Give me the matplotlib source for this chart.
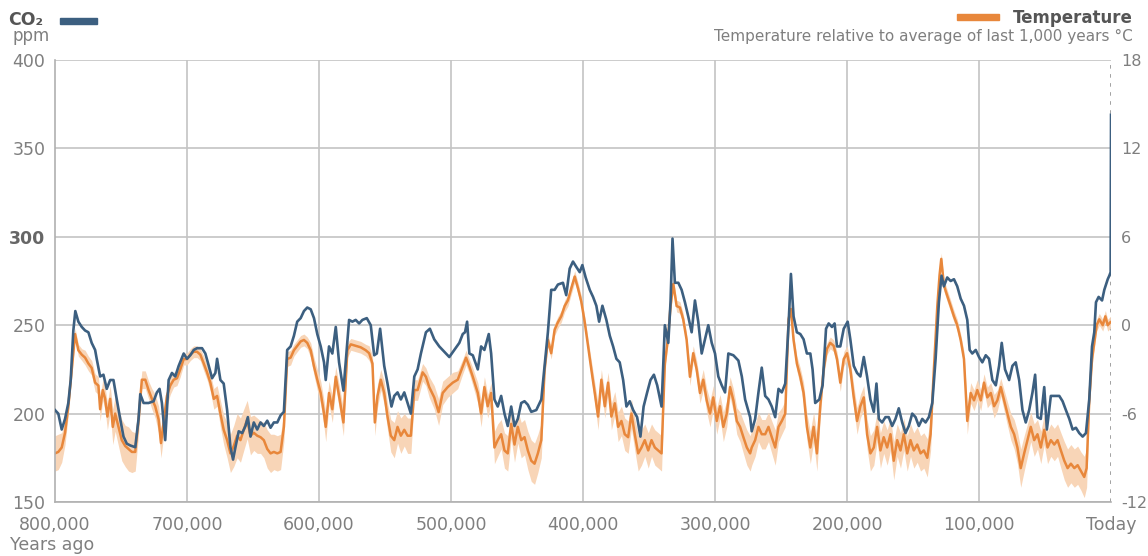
import numpy as np
import matplotlib
matplotlib.use("Agg")
import matplotlib.pyplot as plt
from matplotlib.patches import Rectangle

plt.rcParams["axes.unicode_minus"] = False

# thousand years ago / ppm
co2_age = [800.0, 797.5, 794.9, 792.4, 789.9, 788.1, 786.1, 784.6, 782.3, 779.7,
           777.2, 774.7, 772.2, 769.6, 768.4, 765.8, 763.3, 760.8, 758.2, 755.7,
           753.2, 750.6, 748.1, 745.6, 743.0, 739.2, 736.7, 735.4, 732.9, 729.1,
           725.3, 722.8, 720.8, 719.0, 716.5, 713.9, 711.4, 708.9, 706.3, 702.5,
           700.0, 697.5, 694.9, 692.4, 688.6, 686.1, 683.5, 681.0, 678.5, 677.2,
           674.7, 672.2, 669.6, 667.1, 665.1, 663.3, 660.8, 658.2, 655.7, 653.9,
           651.9, 649.4, 646.8, 644.3, 641.8, 639.2, 636.7, 634.2, 631.6, 629.1,
           626.6, 624.1, 621.5, 619.0, 616.5, 613.9, 611.4, 608.9, 606.3, 603.8,
           601.3, 598.7, 596.2, 594.9, 592.4, 589.9, 587.3, 584.8, 581.5, 577.2,
           574.7, 572.2, 569.6, 567.1, 563.8, 560.8, 558.2, 556.2, 553.7, 550.6,
           548.1, 545.1, 543.0, 540.5, 538.0, 535.4, 532.9, 530.4,
           527.8, 525.3, 522.8, 519.0, 516.0, 512.7, 508.9, 505.1, 501.3, 497.5,
           493.7, 491.1, 489.4, 487.8, 486.1, 483.5, 479.7, 477.2, 474.7, 471.4,
           469.6, 467.1, 464.6, 462.0, 459.5, 457.0, 454.4, 451.9, 449.4, 446.8,
           444.3, 441.8, 439.2, 435.4, 431.6, 429.1, 426.6, 424.1, 421.5, 419.0,
           415.2, 412.7, 410.1, 407.6, 405.1, 402.5, 400.5, 398.0, 394.9, 392.4,
           389.9, 387.8, 385.3, 382.3, 379.7, 377.2, 374.7, 372.2, 369.6, 367.1,
           364.6, 362.0, 359.0, 356.5, 354.1, 351.4, 348.9, 346.3, 343.8, 340.5,
           338.0, 335.4, 333.7, 332.2, 330.4, 327.8, 325.3, 322.8, 320.3, 317.7,
           315.2, 312.7, 310.1, 307.6, 305.1, 302.5, 300.0, 297.5, 294.9, 292.4,
           289.9, 286.1, 282.3, 279.7, 277.2, 273.4,
           272.2, 269.6, 267.1, 264.6, 262.0, 259.5, 257.0, 254.4, 251.9, 249.4,
           246.8, 244.3, 242.5, 240.5, 238.0, 235.4, 232.9, 230.4, 227.8, 226.1,
           224.1, 221.0, 218.5, 215.9, 213.9, 211.4, 209.4, 207.6, 205.1, 202.5,
           199.5, 197.5, 194.9, 192.4, 189.9, 187.3, 184.8, 182.3, 179.7, 177.7,
           175.9, 173.4, 170.9, 168.4, 165.8, 163.3, 160.8, 158.2, 155.7, 153.2,
           150.6, 148.1, 145.6, 143.0, 140.5, 138.0, 135.4, 132.9, 130.4, 128.4,
           126.6, 124.1, 121.5, 119.0, 116.5, 113.9, 111.4, 108.9, 107.1, 105.1,
           102.5, 100.0, 97.5, 94.9, 92.4, 89.9, 87.3, 84.8, 82.8, 80.3,
           77.2, 74.7, 72.2, 69.6, 67.1, 64.6, 62.0, 59.5, 57.5, 55.7,
           53.2, 50.6, 48.6, 45.6, 43.0, 39.2, 36.7, 34.2, 31.6, 29.1,
           26.6, 24.1, 21.5, 19.0, 16.5, 14.4, 12.7, 11.4, 9.4, 6.8,
           5.1, 2.5, 1.3, 0.3, 0.0]

co2_ppm = [202, 200, 191, 197, 206, 219, 247, 258, 252, 249,
           247, 246, 240, 236, 231, 221, 222, 214, 219, 219,
           208, 197, 187, 183, 182, 181, 197, 211, 206, 206,
           207, 212, 214, 206, 185, 219, 223, 221, 227, 234,
           231, 233, 236, 237, 237, 234, 227, 220, 223, 231,
           219, 217, 202, 181, 174, 181, 190, 189, 193, 198,
           187, 195, 191, 195, 193, 196, 192, 195, 195, 199,
           201, 236, 238, 244, 252, 254, 258, 260, 259, 254,
           245, 238, 229, 219, 238, 234, 249, 229, 213, 253,
           252, 253, 251, 253, 254, 250, 233, 234, 248, 227,
           217, 204, 210, 212, 208, 212, 206, 200,
           221, 225, 234, 246, 248, 242, 238, 235, 232, 236,
           240, 245, 246, 252, 234, 233, 225, 238, 236, 245,
           234, 208, 204, 210, 200, 193, 204, 193, 197, 206,
           207, 205, 201, 202, 208, 227, 246, 270, 270, 273,
           274, 267, 282, 286, 283, 280, 284, 277, 270, 266,
           261, 252, 261, 253, 244, 238, 231, 229, 219, 204,
           207, 202, 198, 187, 204, 212, 219, 222, 216, 204,
           250, 240, 263, 299, 274, 274, 270, 263, 255, 246,
           264, 252, 234, 242, 250, 240, 234, 221, 216, 212,
           234, 233, 230, 221, 208, 198,
           190, 197, 212, 226, 210, 208, 204, 198, 214, 212,
           217, 250, 279, 255, 246, 245, 242, 234, 234, 225,
           206, 208, 216, 248, 251, 249, 251, 238, 238, 248,
           252, 242, 227, 223, 221, 232, 221, 208, 201, 217,
           197, 195, 198, 198, 193, 197, 203, 195, 189, 193,
           200, 198, 193, 197, 195, 198, 206, 231, 263, 278,
           272, 277, 275, 276, 272, 265, 261, 253, 236, 234,
           236, 232, 229, 233, 231, 219, 216, 227, 240, 225,
           219, 227, 229, 219, 202, 195, 202, 212, 222, 198,
           197, 215, 191, 210, 210, 210, 207, 202, 197, 191,
           192, 189, 187, 189, 208, 238, 246, 263, 266, 264,
           270, 276, 278, 280, 369]

# thousand years ago / degrees C relative to last 1,000 years
temp_age = [800.0, 797.5, 794.9, 792.4, 789.9, 787.3, 784.8, 782.3, 779.7, 777.2,
            774.7, 772.2, 769.6, 767.1, 765.8, 763.8, 762.0, 760.3, 758.2, 756.2,
            754.4, 751.9, 749.4, 746.8, 744.3, 741.8, 739.2, 736.7, 734.2, 731.6,
            729.1, 726.6, 724.1, 721.5, 719.7, 717.7, 715.2, 712.7, 710.1, 707.6,
            705.1, 702.5, 700.0, 697.5, 694.9, 692.4, 689.9, 687.3, 684.8, 682.3,
            679.7, 677.2, 674.7, 672.2, 669.6, 667.1, 664.6, 662.0, 659.5, 657.0,
            654.4, 651.9, 649.4, 646.8, 644.3, 641.8, 639.2, 636.7, 634.2, 631.6,
            629.1, 626.6, 624.1, 621.5, 619.0, 616.5, 613.9, 611.4, 608.9, 606.3,
            603.8, 601.3, 598.7, 596.2, 594.9, 592.4, 589.9, 587.3, 584.8, 581.5,
            578.5, 575.9, 572.2, 568.4, 564.6, 562.0, 559.5, 557.7, 555.7, 553.2,
            550.6, 548.1, 545.6, 543.0, 540.5, 538.0, 535.4, 532.9, 530.4,
            527.8, 525.3, 521.5, 519.0, 516.5, 512.7, 509.4, 506.3, 502.5, 498.7,
            494.9, 491.1, 488.6, 486.1, 483.5, 479.7, 477.2, 474.7, 472.2, 469.6,
            467.1, 464.6, 462.0, 459.5, 457.0, 454.4, 451.9, 449.4, 446.8, 444.3,
            441.8, 439.2, 436.7, 434.2, 431.6, 429.1, 426.6, 424.1, 421.5, 419.0,
            416.5, 413.9, 411.4, 408.9, 406.3, 403.8, 401.3, 398.7, 396.2, 393.7,
            391.1, 388.6, 386.1, 383.5, 381.0, 378.5, 375.9, 373.4, 370.9, 368.4,
            365.8, 363.3, 360.8, 358.2, 355.7, 353.2, 350.6, 348.1, 345.6, 343.0,
            340.5, 338.0, 335.4, 333.7, 331.6, 329.1, 326.6, 324.1, 321.5, 319.0,
            316.5, 313.9, 311.4, 308.9, 306.3, 303.8, 301.3, 298.7, 296.2, 293.7,
            291.1, 288.6, 286.1, 283.5, 281.0, 278.5, 275.9, 273.4,
            272.2, 269.6, 267.1, 264.6, 262.0, 259.5, 257.0, 254.4, 251.9, 249.4,
            246.8, 244.3, 242.5, 240.5, 238.0, 235.4, 232.9, 230.4, 227.8, 225.3,
            222.8, 220.3, 217.7, 215.2, 212.7, 210.1, 207.6, 205.1, 202.5, 200.0,
            197.5, 194.9, 192.4, 189.9, 187.3, 184.8, 182.3, 179.7, 177.2, 174.7,
            172.2, 169.6, 167.1, 164.6, 162.0, 159.5, 157.0, 154.4, 151.9, 149.4,
            146.8, 144.3, 141.8, 139.2, 136.7, 134.2, 131.6, 129.9, 128.6, 126.6,
            124.1, 121.5, 119.0, 116.5, 113.9, 111.4, 108.9, 106.3, 103.8, 101.3,
            98.7, 96.2, 93.7, 91.1, 88.6, 86.1, 83.5, 81.0, 78.5, 75.9,
            73.4, 70.9, 68.4, 65.8, 63.3, 60.8, 58.2, 55.7, 53.2, 50.6,
            48.1, 45.6, 43.0, 40.5, 38.0, 35.4, 32.9, 30.4, 27.8, 25.3,
            22.8, 20.3, 18.5, 16.5, 14.4, 12.7, 10.9, 8.9, 6.3, 4.3,
            2.5, 0.5]

temp_c = [-8.7, -8.6, -8.3, -7.3, -5.5, -3.0, -0.6, -1.7, -2.0, -2.2,
          -2.6, -2.9, -3.9, -4.1, -5.7, -4.4, -5.0, -6.2, -5.0, -6.9,
          -6.0, -6.9, -7.8, -8.2, -8.4, -8.6, -8.6, -6.4, -3.7, -3.7,
          -4.4, -5.0, -5.5, -6.4, -8.0, -6.6, -4.8, -4.1, -3.7, -3.6,
          -3.0, -2.3, -2.3, -2.0, -1.8, -1.8, -2.0, -2.6, -3.2, -3.9,
          -5.0, -4.8, -6.0, -7.1, -7.8, -8.7, -8.2, -7.5, -7.8, -7.1,
          -6.4, -7.5, -7.3, -7.5, -7.6, -7.8, -8.4, -8.7, -8.6, -8.7,
          -8.6, -6.9, -2.3, -2.2, -1.7, -1.4, -1.1, -1.0, -1.2, -1.7,
          -2.8, -3.7, -4.6, -6.0, -6.9, -4.6, -5.7, -3.5, -4.8, -6.6,
          -1.7, -1.3, -1.4, -1.5, -1.7, -1.9, -2.6, -6.6, -4.8, -3.7,
          -4.6, -6.2, -7.5, -7.8, -6.9, -7.5, -7.1, -7.5, -7.5,
          -4.4, -4.4, -3.2, -3.5, -4.2, -4.9, -5.9, -4.6, -4.2, -3.9,
          -3.7, -2.8, -2.2, -2.8, -3.5, -4.6, -6.0, -4.2, -5.5, -4.6,
          -8.3, -7.8, -7.4, -8.5, -8.7, -6.7, -8.1, -6.9, -7.8, -7.6,
          -8.5, -9.2, -9.4, -8.7, -7.8, -3.0, -1.0, -1.9, -0.3, 0.2,
          0.6, 1.3, 1.7, 2.5, 3.3, 2.5, 1.6, 0.2, -1.4, -3.0,
          -4.6, -6.2, -3.7, -5.5, -3.9, -6.2, -5.3, -6.9, -6.5, -7.4,
          -7.6, -6.0, -7.4, -8.7, -8.3, -7.8, -8.5, -7.8, -8.3, -8.5,
          -8.7, -2.6, -0.7, 1.3, 2.8, 1.3, 1.2, 0.4, -1.0, -3.5,
          -1.9, -3.0, -4.6, -3.7, -5.1, -6.0, -4.9, -6.5, -5.5, -6.9,
          -6.0, -4.2, -5.1, -6.5, -6.9, -7.6, -8.3, -8.7,
          -8.3, -7.8, -6.9, -7.4, -7.4, -6.9, -7.6, -8.3, -6.9, -6.5,
          -6.0, 0.4, 1.1, -1.0, -2.6, -3.5, -4.6, -6.9, -8.3, -6.9,
          -8.7, -5.5, -3.0, -1.6, -1.2, -1.4, -2.3, -3.9, -2.3, -1.9,
          -3.0, -4.9, -6.5, -5.5, -4.9, -7.4, -8.7, -8.3, -6.9, -8.5,
          -7.6, -8.3, -7.4, -9.2, -7.8, -8.5, -7.4, -8.7, -7.8, -8.5,
          -8.1, -8.7, -8.5, -9.0, -7.4, -3.0, 1.3, 3.4, 4.5, 2.7,
          2.0, 1.3, 0.6, 0.0, -1.0, -2.3, -6.5, -4.6, -5.1, -4.4,
          -5.1, -3.9, -4.9, -4.6, -5.5, -5.1, -4.2, -5.1, -6.0, -6.9,
          -7.4, -8.3, -9.7, -8.7, -7.8, -6.9, -7.8, -7.4, -8.3, -7.1,
          -8.3, -7.8, -8.1, -7.8, -8.5, -9.2, -9.7, -9.4, -9.7, -9.5,
          -9.9, -10.3, -9.7, -5.1, -2.3, -1.2, 0.0, 0.4, 0.0, 0.6,
          0.0, 0.2]

# half-width of the shaded uncertainty band
temp_err = [1.2, 1.2, 1.0, 0.8, 0.6, 0.5, 0.4, 0.4, 0.4, 0.5,
            0.5, 0.5, 0.6, 0.6, 0.8, 0.7, 0.8, 0.9, 0.9, 1.2,
            1.2, 1.3, 1.4, 1.4, 1.5, 1.4, 1.3, 1.0, 0.6, 0.6,
            0.6, 0.7, 0.8, 0.9, 1.0, 0.9, 0.7, 0.6, 0.5, 0.5,
            0.5, 0.4, 0.4, 0.4, 0.4, 0.4, 0.4, 0.5, 0.5, 0.6,
            0.7, 0.7, 0.9, 1.0, 1.2, 1.3, 1.4, 1.5, 1.5, 1.4,
            1.3, 1.3, 1.2, 1.2, 1.1, 1.2, 1.3, 1.3, 1.2, 1.2,
            1.2, 1.0, 0.5, 0.5, 0.4, 0.4, 0.4, 0.4, 0.4, 0.5,
            0.6, 0.7, 0.8, 0.9, 1.0, 0.8, 0.9, 0.7, 0.8, 0.9,
            0.5, 0.4, 0.4, 0.4, 0.4, 0.5, 0.5, 0.9, 0.8, 0.7,
            0.8, 0.9, 1.1, 1.2, 1.1, 1.2, 1.1, 1.2, 1.2,
            0.7, 0.7, 0.6, 0.6, 0.7, 0.8, 0.9, 0.8, 0.7, 0.7,
            0.6, 0.5, 0.5, 0.5, 0.6, 0.7, 0.9, 0.7, 0.8, 0.7,
            1.1, 1.1, 1.0, 1.2, 1.2, 1.0, 1.2, 1.1, 1.2, 1.2,
            1.3, 1.4, 1.4, 1.3, 1.2, 0.6, 0.4, 0.4, 0.4, 0.4,
            0.4, 0.4, 0.4, 0.4, 0.4, 0.4, 0.4, 0.4, 0.5, 0.6,
            0.7, 0.9, 0.7, 0.8, 0.7, 0.9, 0.8, 1.0, 1.0, 1.1,
            1.1, 1.0, 1.1, 1.2, 1.2, 1.1, 1.2, 1.1, 1.2, 1.2,
            1.2, 0.5, 0.4, 0.4, 0.4, 0.4, 0.4, 0.4, 0.4, 0.6,
            0.5, 0.6, 0.7, 0.7, 0.8, 0.9, 0.8, 0.9, 0.8, 1.0,
            0.9, 0.7, 0.8, 0.9, 1.0, 1.1, 1.2, 1.2,
            1.2, 1.1, 1.0, 1.0, 1.0, 1.0, 1.1, 1.2, 1.0, 0.9,
            0.9, 0.4, 0.4, 0.4, 0.5, 0.6, 0.7, 0.9, 1.1, 1.0,
            1.2, 0.8, 0.5, 0.4, 0.4, 0.4, 0.5, 0.6, 0.5, 0.5,
            0.6, 0.8, 0.9, 0.8, 0.8, 1.0, 1.2, 1.2, 1.0, 1.2,
            1.1, 1.2, 1.1, 1.3, 1.1, 1.2, 1.1, 1.2, 1.1, 1.2,
            1.2, 1.2, 1.2, 1.3, 1.1, 0.6, 0.4, 0.4, 0.4, 0.4,
            0.4, 0.4, 0.4, 0.4, 0.4, 0.5, 0.9, 0.7, 0.7, 0.7,
            0.7, 0.6, 0.7, 0.7, 0.8, 0.7, 0.6, 0.7, 0.8, 0.9,
            1.0, 1.1, 1.3, 1.2, 1.1, 1.0, 1.1, 1.0, 1.1, 1.0,
            1.1, 1.1, 1.1, 1.1, 1.2, 1.3, 1.3, 1.3, 1.3, 1.3,
            1.3, 1.4, 1.3, 0.8, 0.5, 0.4, 0.4, 0.4, 0.4, 0.4,
            0.4, 0.4]

x_ticks = [800, 700, 600, 500, 400, 300, 200, 100, 0]
x_labels = ["800,000", "700,000", "600,000", "500,000", "400,000",
            "300,000", "200,000", "100,000", "Today"]
co2_ticks = [150, 200, 250, 300, 350, 400]
temp_ticks = [-12, -6, 0, 6, 12, 18]

blue = "#3c5f80"
orange = "#e8873b"
band = "#f8d5b7"
grid_c = "#c4c4c4"
text_c = "#7f7f7f"

fig = plt.figure(figsize=(11.48, 5.56), dpi=100)
ax = fig.add_axes([0.0479, 0.0971, 0.9199, 0.7950])
ax2 = ax.twinx()
ax.set_zorder(ax2.get_zorder() + 1)
ax.patch.set_visible(False)

# temperature on the lower layer, with the grid
t = np.array(temp_c)
e = np.array(temp_err)
ax2.fill_between(temp_age, t - e, t + e, color=band, lw=0, zorder=2)
ax2.plot(temp_age, temp_c, color=orange, lw=1.8, zorder=3)
ax2.set_ylim(-12, 18)
ax2.set_yticks(temp_ticks)
ax2.yaxis.grid(True, color=grid_c, lw=1.2)
for xt in x_ticks[1:-1]:
    ax2.axvline(xt, color=grid_c, lw=1.2, zorder=1)
ax2.axvline(0, color="#9a9a9a", lw=1.3, ls=(0, (2, 3)), zorder=1)
ax2.set_axisbelow(True)
for s in ax2.spines.values():
    s.set_visible(False)
ax2.tick_params(axis="y", length=0, pad=7, labelsize=11.5, labelcolor=text_c)

# CO2 on top
ax.plot(co2_age, co2_ppm, color=blue, lw=1.9, zorder=3)
ax.set_xlim(800, 0)
ax.set_ylim(150, 400)
ax.set_yticks(co2_ticks)
ax.set_xticks(x_ticks)
ax.set_xticklabels(x_labels)
ax.tick_params(axis="both", length=0, labelsize=12.5, labelcolor=text_c)
ax.tick_params(axis="y", pad=7)
ax.tick_params(axis="x", pad=10)
for lbl in ax.get_yticklabels():
    if lbl.get_text() == "300":
        lbl.set_fontweight("bold")
        lbl.set_color("#666666")
for side in ["top", "right"]:
    ax.spines[side].set_visible(False)
for side in ["left", "bottom"]:
    ax.spines[side].set_color("#b0b0b0")
    ax.spines[side].set_linewidth(1.2)

# headers and legend swatches
fig.text(0.007, 0.964, "CO₂", fontsize=12.5, fontweight="bold", color="#555555",
         ha="left", va="center")
fig.text(0.011, 0.935, "ppm", fontsize=12, color=text_c, ha="left", va="center")
fig.patches.append(Rectangle((60 / 1148, 1 - 24 / 556), 37 / 1148, 6 / 556,
                             transform=fig.transFigure, color=blue))
fig.text(0.987, 0.968, "Temperature", fontsize=12, fontweight="bold",
         color="#555555", ha="right", va="center")
fig.patches.append(Rectangle((957 / 1148, 1 - 20 / 556), 42 / 1148, 6 / 556,
                             transform=fig.transFigure, color=orange))
fig.text(0.987, 0.935, "Temperature relative to average of last 1,000 years °C",
         fontsize=11, color=text_c, ha="right", va="center")
fig.text(0.009, 0.020, "Years ago", fontsize=12.5, color=text_c,
         ha="left", va="center")

fig.savefig("out.png", dpi=100, facecolor="white")
